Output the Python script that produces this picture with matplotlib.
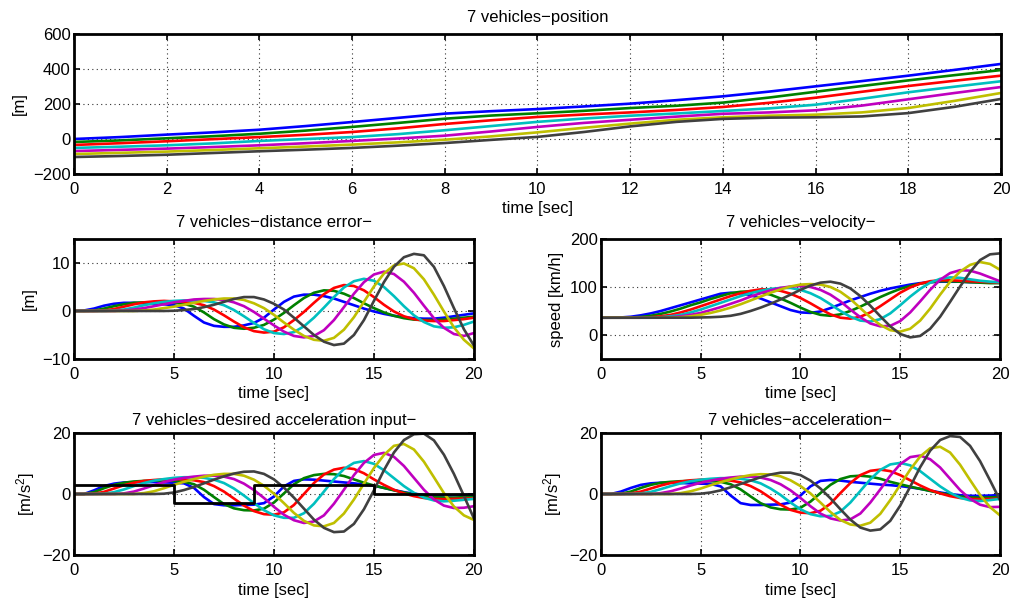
import numpy
import matplotlib
matplotlib.use("Agg")
import matplotlib.pyplot as pyplot

pyplot.rcParams["font.family"] = ["Liberation Sans", "DejaVu Sans"]
pyplot.rcParams["font.size"] = 12
pyplot.rcParams["mathtext.fontset"] = "custom"
pyplot.rcParams["mathtext.rm"] = "Liberation Sans"
pyplot.rcParams["mathtext.default"] = "regular"

# matlab default line colours, one per vehicle
vehicleColors = [
    (0.0, 0.0, 1.0),
    (0.0, 0.5, 0.0),
    (1.0, 0.0, 0.0),
    (0.0, 0.75, 0.75),
    (0.75, 0.0, 0.75),
    (0.75, 0.75, 0.0),
    (0.25, 0.25, 0.25),
]

# sample times
timeCoarse = numpy.linspace(0, 20, 21)   # position, 1 s
timeFine = numpy.linspace(0, 20, 41)     # everything else, 0.5 s

# position [m]
posBlue    = [0, 11, 25, 38, 53, 74, 97, 121, 145, 159, 171, 186, 202, 222, 244, 271, 301, 331, 362, 395, 429]
posGreen   = [-17, -8, 4, 16, 30, 48, 69, 92, 116, 134, 147, 161, 177, 190, 208, 237, 270, 303, 335, 365, 394]
posRed     = [-34, -24, -13, -1, 11, 24, 40, 61, 86, 107, 126, 140, 152, 166, 183, 207, 236, 270, 303, 333, 362]
posCyan    = [-51, -44, -36, -25, -11, 0, 11, 28, 50, 74, 98, 117, 133, 146, 160, 175, 196, 230, 267, 299, 330]
posMagenta = [-69, -62, -55, -46, -36, -24, -11, 3, 19, 43, 69, 92, 110, 128, 144, 152, 164, 191, 227, 263, 297]
posYellow  = [-86, -79, -72, -63, -53, -43, -32, -19, -4, 15, 38, 64, 88, 110, 124, 133, 139, 152, 177, 218, 263]
posGray    = [-103, -97, -90, -80, -70, -61, -51, -38, -23, -5, 12, 40, 72, 98, 115, 122, 124, 129, 148, 184, 229]

# distance error [m]
errBlue    = [0, 0.1, 0.5, 1.1, 1.5, 1.7, 1.7, 1.6, 1.5, 1.4, 1.2, 0.5, -1.0, -2.4, -3.1, -3.3, -3.3, -3.0, -2.5, -1.4,
              0.3, 1.9, 3.0, 3.4, 3.4, 3.1, 2.6, 1.9, 1.2, 0.5, -0.1, -0.6, -1.0, -1.3, -1.5, -1.6, -1.6, -1.4, -1.1, -0.8, -0.5]
errGreen   = [0, 0, 0.1, 0.5, 1.0, 1.4, 1.7, 1.8, 1.8, 1.8, 1.7, 1.5, 0.9, -0.3, -1.7, -2.8, -3.5, -3.7, -3.5, -2.9,
              -1.8, -0.4, 1.2, 2.7, 3.8, 4.3, 4.2, 3.6, 2.7, 1.6, 0.6, -0.3, -1.0, -1.5, -1.8, -1.9, -1.9, -1.8, -1.6, -1.4, -1.2]
errRed     = [0, 0, 0, 0.1, 0.4, 0.9, 1.4, 1.8, 2.0, 2.1, 2.0, 1.9, 1.7, 1.2, 0.3, -0.9, -2.2, -3.4, -4.2, -4.5,
              -4.3, -3.4, -1.9, -0.2, 1.7, 3.5, 4.8, 5.4, 5.2, 4.3, 2.9, 1.3, -0.1, -1.1, -1.7, -2.0, -2.1, -2.1, -1.9, -1.7, -1.4]
errCyan    = [0, 0, 0, 0, 0.1, 0.3, 0.7, 1.2, 1.6, 1.9, 2.1, 2.2, 2.2, 2.1, 1.8, 1.2, 0.2, -1.1, -2.5, -3.8,
              -4.6, -4.8, -4.4, -3.2, -1.4, 0.7, 2.9, 4.9, 6.2, 6.7, 6.3, 5.0, 3.1, 1.0, -0.9, -2.3, -3.2, -3.5, -3.4, -2.9, -2.2]
errMagenta = [0, 0, 0, 0, 0, 0.1, 0.3, 0.6, 1.0, 1.4, 1.8, 2.1, 2.4, 2.5, 2.5, 2.3, 1.8, 1.0, -0.2, -1.6,
              -3.0, -4.3, -5.2, -5.5, -5.2, -4.0, -1.9, 0.8, 3.6, 6.0, 7.6, 8.2, 7.7, 6.1, 3.8, 1.1, -1.5, -3.5, -4.8, -5.2, -4.6]
errYellow  = [0, 0, 0, 0, 0, 0, 0, 0.1, 0.3, 0.6, 0.9, 1.3, 1.7, 2.1, 2.4, 2.6, 2.6, 2.3, 1.6, 0.6,
              -0.8, -2.4, -3.9, -5.2, -6.0, -6.2, -5.6, -3.9, -1.3, 1.9, 5.1, 7.8, 9.5, 9.9, 8.9, 6.6, 3.4, -0.1, -3.4, -6.0, -7.8]
errGray    = [0, 0, 0, 0, 0, 0, 0, 0, 0, 0, 0.05, 0.2, 0.4, 0.8, 1.3, 1.9, 2.5, 2.9, 2.9, 2.4,
              1.5, 0.3, -1.4, -3.2, -5.0, -6.4, -7.1, -6.8, -5.0, -1.9, 2.1, 6.0, 9.2, 11.2, 11.9, 11.6, 9.2, 5.2, 0.6, -3.8, -7.2]

# velocity [km/h]
velBlue    = [36, 36, 36.5, 38, 41, 45, 50, 56, 62, 68, 74, 80, 86, 88, 87, 83, 76, 68, 60, 52,
              47, 46, 49, 56, 64, 72, 79, 86, 92, 97, 101, 105, 108, 110, 111, 111, 111, 110, 110, 109, 109]
velGreen   = [36, 36, 36, 36.5, 37.5, 40, 44, 49, 55, 62, 68, 75, 81, 87, 90, 91, 89, 84, 76, 67,
              57, 48, 42, 40, 43, 50, 59, 69, 79, 88, 96, 102, 107, 110, 112, 112, 111, 110, 109, 108, 108]
velRed     = [36, 36, 36, 36, 36, 37, 39, 42, 47, 53, 60, 67, 74, 81, 87, 92, 95, 95, 92, 86,
              77, 66, 54, 43, 36, 34, 38, 47, 60, 74, 88, 99, 107, 112, 114, 114, 113, 112, 111, 110, 109]
velCyan    = [36, 36, 36, 36, 36, 36, 37, 39, 42, 47, 53, 60, 67, 74, 81, 87, 92, 96, 98, 98,
              94, 87, 77, 64, 50, 38, 30, 28, 33, 45, 62, 80, 96, 109, 117, 120, 119, 116, 113, 111, 110]
velMagenta = [36, 36, 36, 36, 36, 36, 36, 37, 39, 42, 46, 52, 58, 65, 72, 80, 87, 93, 98, 101,
              102, 100, 94, 84, 70, 53, 37, 24, 18, 19, 29, 47, 70, 94, 115, 129, 135, 134, 128, 120, 112]
velYellow  = [36, 36, 36, 36, 36, 36, 36, 36, 37, 39, 42, 46, 51, 57, 64, 72, 80, 88, 95, 101,
              105, 106, 105, 100, 90, 75, 56, 37, 21, 10, 7, 13, 30, 55, 84, 111, 132, 146, 152, 148, 136]
velGray    = [36, 36, 36, 36, 36, 36, 36, 36, 36, 36, 36.5, 37, 38, 40, 44, 50, 57, 65, 74, 84,
              94, 103, 109, 111, 107, 97, 81, 61, 39, 18, 2, -5, -2, 13, 38, 69, 101, 131, 156, 168, 170]

# desired acceleration input [m/s^2]
desBlue    = [0, 0, 1.2, 2.6, 3.4, 3.8, 3.9, 3.9, 3.9, 3.8, 3.7, 3.5, 2.0, -1.0, -3.3, -3.7, -3.7, -3.6, -3.5, -3.0,
              -0.8, 2.5, 4.3, 4.8, 4.7, 4.4, 4.1, 3.8, 3.5, 3.1, 2.7, 2.0, 1.3, 0.6, 0.1, -0.3, -0.5, -0.5, -0.4, -0.3, -0.2]
desGreen   = [0, 0, 0.6, 1.9, 3.0, 3.7, 4.1, 4.3, 4.4, 4.4, 4.3, 4.0, 3.2, 1.4, -1.0, -3.3, -4.7, -5.3, -5.4, -4.8,
              -2.8, 0.2, 3.2, 5.2, 6.2, 6.6, 6.5, 5.9, 4.8, 3.7, 2.8, 2.0, 1.2, 0.5, -0.2, -0.7, -1.0, -1.2, -1.2, -1.0, -0.9]
desRed     = [0, 0, 0.1, 0.7, 1.8, 2.9, 3.7, 4.3, 4.6, 4.8, 4.9, 4.8, 4.5, 3.9, 2.6, 0.8, -1.5, -3.8, -5.6, -6.6,
              -6.8, -6.0, -3.6, 0.0, 3.6, 6.4, 8.0, 8.6, 8.2, 6.8, 4.8, 3.0, 1.4, 0.2, -0.7, -1.3, -1.6, -1.7, -1.6, -1.5, -1.4]
desCyan    = [0, 0, 0, 0.1, 0.6, 1.5, 2.6, 3.6, 4.4, 4.9, 5.3, 5.5, 5.5, 5.3, 4.7, 3.6, 1.8, -0.5, -3.0, -5.3,
              -7.0, -7.8, -7.8, -6.3, -3.2, 0.8, 4.9, 8.2, 10.2, 10.8, 9.9, 7.8, 5.2, 2.6, 0.4, -1.2, -2.1, -2.4, -2.2, -1.9, -1.6]
desMagenta = [0, 0, 0, 0, 0, 0.2, 0.8, 1.8, 2.9, 3.9, 4.7, 5.3, 5.7, 6.0, 6.0, 5.7, 4.9, 3.4, 1.3, -1.3,
              -4.2, -6.8, -8.6, -9.5, -9.0, -7.0, -3.2, 1.4, 6.2, 10.2, 12.8, 13.5, 12.2, 9.2, 5.3, 1.4, -1.8, -3.8, -4.6, -4.5, -4.0]
desYellow  = [0, 0, 0, 0, 0, 0, 0, 0.3, 0.9, 1.9, 3.0, 4.0, 4.9, 5.7, 6.3, 6.6, 6.6, 6.0, 4.7, 2.7,
              0.1, -3.0, -6.2, -8.8, -10.3, -10.6, -9.5, -6.4, -1.8, 3.4, 8.5, 12.8, 15.8, 16.4, 14.6, 10.6, 5.5, 0.3, -4.1, -7.0, -8.5]
desGray    = [0, 0, 0, 0, 0, 0, 0, 0, 0, 0.1, 0.5, 1.3, 2.3, 3.5, 4.7, 5.8, 6.7, 7.3, 7.4, 6.6,
              4.8, 2.1, -1.2, -4.8, -8.4, -11.1, -12.5, -12.3, -9.8, -5.0, 1.2, 7.8, 13.6, 17.7, 19.6, 19.8, 17.6, 12.9, 6.6, -0.6, -8.0]

# leader acceleration command (piecewise constant)
leaderTime  = [0, 5, 9, 15, 20]
leaderInput = [3, -3, 3, 0, 0]

# measured acceleration [m/s^2]
accBlue    = [0, 0, 0.8, 2.0, 3.0, 3.5, 3.7, 3.7, 3.6, 3.5, 3.4, 3.3, 2.5, -0.5, -3.0, -3.6, -3.6, -3.5, -3.4, -2.8,
              -0.5, 2.5, 4.3, 4.6, 4.4, 4.0, 3.7, 3.4, 3.1, 2.9, 2.6, 2.2, 1.7, 1.1, 0.5, 0.0, -0.4, -0.6, -0.6, -0.5, -0.4]
accGreen   = [0, 0, 0.1, 0.8, 2.0, 3.0, 3.7, 4.0, 4.2, 4.3, 4.3, 4.2, 4.0, 3.2, 1.5, -0.8, -3.0, -4.4, -5.0, -5.1,
              -4.5, -2.5, 0.3, 3.0, 4.9, 5.8, 6.0, 5.7, 5.0, 4.0, 3.2, 2.4, 1.7, 1.0, 0.3, -0.3, -0.8, -1.1, -1.2, -1.1, -1.0]
accRed     = [0, 0, 0, 0.2, 0.8, 1.8, 2.8, 3.6, 4.1, 4.5, 4.7, 4.8, 4.7, 4.4, 3.8, 2.6, 0.9, -1.3, -3.5, -5.2,
              -6.1, -6.3, -5.5, -3.2, 0.3, 3.6, 6.2, 7.6, 8.0, 7.5, 6.2, 4.5, 2.8, 1.3, 0.2, -0.7, -1.3, -1.6, -1.7, -1.6, -1.5]
accCyan    = [0, 0, 0, 0, 0.2, 0.7, 1.6, 2.6, 3.5, 4.2, 4.7, 5.0, 5.2, 5.2, 5.0, 4.5, 3.5, 1.8, -0.3, -2.8,
              -5.0, -6.6, -7.3, -7.2, -5.8, -2.8, 1.0, 4.8, 7.9, 9.7, 10.2, 9.4, 7.5, 5.0, 2.5, 0.4, -1.2, -2.1, -2.3, -2.0, -1.6]
accMagenta = [0, 0, 0, 0, 0, 0, 0.3, 0.9, 1.8, 2.8, 3.7, 4.4, 5.0, 5.4, 5.7, 5.7, 5.4, 4.6, 3.2, 1.2,
              -1.3, -4.0, -6.4, -8.0, -8.7, -8.3, -6.4, -2.8, 1.5, 6.0, 9.8, 12.1, 12.6, 11.4, 8.7, 5.0, 1.3, -1.6, -3.5, -4.3, -4.2]
accYellow  = [0, 0, 0, 0, 0, 0, 0, 0, 0.3, 0.9, 1.8, 2.9, 3.9, 4.8, 5.6, 6.2, 6.5, 6.4, 5.8, 4.5,
              2.6, 0.2, -2.8, -5.9, -8.5, -10.0, -10.4, -9.4, -6.5, -2.0, 3.0, 8.0, 12.3, 15.0, 15.5, 13.6, 9.6, 4.6, -0.3, -4.3, -7.0]
accGray    = [0, 0, 0, 0, 0, 0, 0, 0, 0, 0, 0.1, 0.5, 1.2, 2.2, 3.3, 4.4, 5.5, 6.4, 7.0, 7.0,
              6.2, 4.4, 1.8, -1.4, -5.0, -8.4, -11.0, -12.0, -11.6, -8.8, -3.8, 2.4, 8.8, 14.2, 17.7, 19.0, 18.7, 15.8, 10.8, 4.5, -2.0]

positionData = [posBlue, posGreen, posRed, posCyan, posMagenta, posYellow, posGray]
errorData = [errBlue, errGreen, errRed, errCyan, errMagenta, errYellow, errGray]
velocityData = [velBlue, velGreen, velRed, velCyan, velMagenta, velYellow, velGray]
desiredData = [desBlue, desGreen, desRed, desCyan, desMagenta, desYellow, desGray]
accelData = [accBlue, accGreen, accRed, accCyan, accMagenta, accYellow, accGray]


def styleAxes(axes, xTicks, yTicks, yLimits, title, yLabel, titlePad=8.5):
    axes.set_xlim(0, 20)
    axes.set_ylim(*yLimits)
    axes.set_xticks(xTicks)
    axes.set_yticks(yTicks)
    axes.tick_params(direction="in", top=True, right=True, length=4.5, width=1.2,
                     labelsize=12)
    axes.tick_params(axis="x", pad=6)
    axes.tick_params(axis="y", pad=2.5)
    for spine in axes.spines.values():
        spine.set_linewidth(2.0)
    axes.grid(True, color=(0.2, 0.2, 0.2), linestyle=(0, (1, 3)), linewidth=0.8)
    axes.set_axisbelow(True)
    axes.set_title(title, fontsize=12, pad=titlePad)
    axes.set_xlabel("time [sec]", fontsize=12, labelpad=3)
    axes.set_ylabel(yLabel, fontsize=12, labelpad=4)


def drawSeries(axes, time, seriesList):
    for values, color in zip(seriesList, vehicleColors):
        axes.plot(time, values, color=color, linewidth=1.9)


figure = pyplot.figure(figsize=(10.15, 6.0), dpi=100)

axesPos = figure.add_axes([0.0729, 0.71, 0.9133, 0.2333])
axesErr = figure.add_axes([0.0729, 0.4017, 0.394, 0.2])
axesVel = figure.add_axes([0.5921, 0.4017, 0.3931, 0.2])
axesDes = figure.add_axes([0.0729, 0.075, 0.394, 0.2033])
axesAcc = figure.add_axes([0.5921, 0.075, 0.3931, 0.2033])

drawSeries(axesPos, timeCoarse, positionData)
styleAxes(axesPos, range(0, 21, 2), range(-200, 601, 200), (-200, 600),
          "7 vehicles\u2212position", "[m]")

drawSeries(axesErr, timeFine, errorData)
styleAxes(axesErr, range(0, 21, 5), [-10, 0, 10], (-10, 15),
          "7 vehicles\u2212distance error\u2212", "[m]")

drawSeries(axesVel, timeFine, velocityData)
styleAxes(axesVel, range(0, 21, 5), [0, 100, 200], (-50, 200),
          "7 vehicles\u2212velocity\u2212", "speed [km/h]")

drawSeries(axesDes, timeFine, desiredData)
axesDes.step(leaderTime, leaderInput, where="post", color="black", linewidth=2.0)
styleAxes(axesDes, range(0, 21, 5), [-20, 0, 20], (-20, 20),
          "7 vehicles\u2212desired acceleration input\u2212", r"[m/s$^2$]", titlePad=6)

drawSeries(axesAcc, timeFine, accelData)
styleAxes(axesAcc, range(0, 21, 5), [-20, 0, 20], (-20, 20),
          "7 vehicles\u2212acceleration\u2212", r"[m/s$^2$]", titlePad=6)

figure.savefig("out.png", dpi=100)
